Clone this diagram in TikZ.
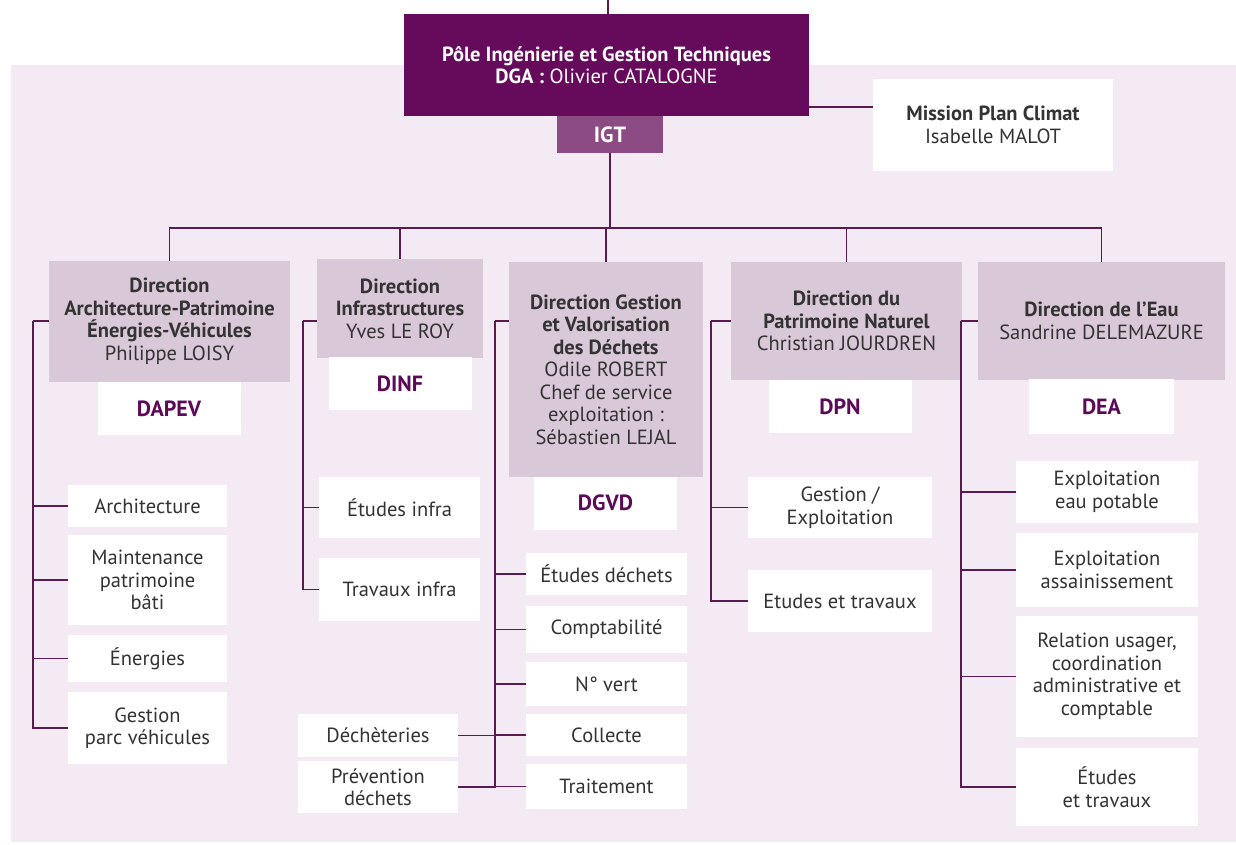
\documentclass[tikz,border=0pt]{standalone}
\usepackage{fontspec}
\setmainfont{PT Sans}
\definecolor{polepurple}{HTML}{660A5C}
\definecolor{igtpurple}{HTML}{8C4B83}
\definecolor{headlilac}{HTML}{D9C8D8}
\definecolor{bgpink}{HTML}{F4EAF3}
\definecolor{linkpurple}{HTML}{5B1A52}
\definecolor{codepurple}{HTML}{5C0A57}
\definecolor{txtgray}{HTML}{333333}

\begin{document}
\begin{tikzpicture}[x=1pt,y=-1pt,
  box/.style={inner sep=0pt,align=center,text=txtgray,font=\fontsize{20.5}{22.5}\selectfont},
  headbox/.style={box,fill=headlilac},
  codebox/.style={box,fill=white,text=codepurple,font=\fontsize{22}{24}\selectfont\bfseries,minimum width=143pt,minimum height=53pt},
  subbox/.style={box,fill=white},
  link/.style={draw=linkpurple,line width=1.6pt}]
\useasboundingbox (0,0) rectangle (1236,845);
% Background panel
\fill[bgpink] (11,65) rectangle (1236,842);

% Pole and mission
\node[box,fill=polepurple,text=white,minimum width=405pt,minimum height=102pt] (pole) at (606.5,65)
  {\textbf{Pôle Ingénierie et Gestion Techniques}\\\textbf{DGA :} Olivier CATALOGNE};
\node[box,fill=igtpurple,text=white,minimum width=106pt,minimum height=37pt,font=\fontsize{22}{24}\selectfont\bfseries] (igt) at (610,134.5) {IGT};
\node[subbox,minimum width=240pt,minimum height=92pt] (mpc) at (993,125)
  {\textbf{Mission Plan Climat}\\Isabelle MALOT};

% Directions
\node[headbox,minimum width=241pt,minimum height=121pt] (hd1) at (169.5,321.5)
  {\textbf{Direction}\\\textbf{Architecture-Patrimoine}\\\textbf{Énergies-Véhicules}\\Philippe LOISY};
\node[codebox] (c1) at (169,408.5) {DAPEV};
\node[headbox,minimum width=166pt,minimum height=99pt] (hd2) at (400,308.5)
  {\textbf{Direction}\\\textbf{Infrastructures}\\Yves LE ROY};
\node[codebox] (c2) at (400,383.5) {DINF};
\node[headbox,minimum width=194pt,minimum height=215pt] (hd3) at (606,369.5)
  {\textbf{Direction Gestion}\\\textbf{et Valorisation}\\\textbf{des Déchets}\\Odile ROBERT\\Chef de service\\exploitation :\\Sébastien LEJAL};
\node[codebox] (c3) at (605.5,503) {DGVD};
\node[headbox,minimum width=231pt,minimum height=118pt] (hd4) at (846.5,321)
  {\textbf{Direction du}\\\textbf{Patrimoine Naturel}\\Christian JOURDREN};
\node[codebox] (c4) at (840,406.5) {DPN};
\node[headbox,minimum width=247pt,minimum height=118pt] (hd5) at (1101.5,321)
  {\textbf{Direction de l’Eau}\\Sandrine DELEMAZURE};
\node[codebox,minimum width=145pt,minimum height=55pt] (c5) at (1101.5,406.5) {DEA};

% Services
\node[subbox,minimum width=159pt,minimum height=42pt] (arch) at (147.5,506) {Architecture};
\node[subbox,minimum width=159pt,minimum height=90pt] (maint) at (147.5,580) {Maintenance\\patrimoine\\bâti};
\node[subbox,minimum width=159pt,minimum height=47pt] (ener) at (147.5,658.5) {Énergies};
\node[subbox,minimum width=159pt,minimum height=72pt] (gpv) at (147.5,728) {Gestion\\parc véhicules};

\node[subbox,minimum width=161pt,minimum height=61pt] (etinf) at (399.5,507.5) {Études infra};
\node[subbox,minimum width=161pt,minimum height=63pt] (trinf) at (399.5,589.5) {Travaux infra};

\node[subbox,minimum width=161pt,minimum height=42pt] (etdec) at (606.5,574) {Études déchets};
\node[subbox,minimum width=161pt,minimum height=47pt] (compta) at (606.5,629.5) {Comptabilité};
\node[subbox,minimum width=161pt,minimum height=44pt] (nvert) at (606.5,684) {N° vert};
\node[subbox,minimum width=161pt,minimum height=42pt] (coll) at (606.5,735) {Collecte};
\node[subbox,minimum width=161pt,minimum height=45pt] (trait) at (606.5,786.5) {Traitement};
\node[subbox,minimum width=160pt,minimum height=43pt] (dech) at (378,735.5) {Déchèteries};
\node[subbox,minimum width=160pt,minimum height=52pt] (prev) at (378,787) {Prévention\\déchets};

\node[subbox,minimum width=184pt,minimum height=61pt] (gexp) at (840,507.5) {Gestion /\\Exploitation};
\node[subbox,minimum width=184pt,minimum height=62pt] (ettr) at (840,601) {Etudes et travaux};

\node[subbox,minimum width=182pt,minimum height=62pt] (eaup) at (1107,492) {Exploitation\\eau potable};
\node[subbox,minimum width=182pt,minimum height=74pt] (assain) at (1107,570) {Exploitation\\assainissement};
\node[subbox,minimum width=182pt,minimum height=121pt] (relat) at (1107,676.5) {Relation usager,\\coordination\\administrative et\\comptable};
\node[subbox,minimum width=182pt,minimum height=78pt] (ettrv) at (1107,787) {Études\\et travaux};

% Links at the top
\coordinate (top) at (608,0);
\coordinate (mlink) at (840,107);
\coordinate (bus) at (610,228);
\draw[link] (top) -- (top |- pole.north);
\draw[link] (pole.east |- mlink) -- (mpc.west |- mlink);
\draw[link] (igt.south) -- (bus);
\draw[link] (hd1.north) |- (bus) -| (hd5.north);
\foreach \n in {2,3,4}
  \draw[link] (hd\n.north |- bus) -- (hd\n.north);

% Spines
\coordinate (s1) at (33,321);
\coordinate (s2) at (303,321);
\coordinate (s3) at (495,321);
\coordinate (s4) at (711,321);
\coordinate (s5) at (961,321);
\foreach \n in {1,...,5}
  \draw[link] (hd\n.west |- s\n) -- (s\n);
\foreach \b in {arch,maint,ener,gpv}
  \draw[link] (s1) |- (\b.west);
\foreach \b in {etinf,trinf}
  \draw[link] (s2) |- (\b.west);
\foreach \b in {etdec,compta,nvert,coll,trait}
  \draw[link] (s3) |- (\b.west);
\foreach \b in {dech,prev}
  \draw[link] (s3) |- (\b.east);
\foreach \b in {gexp,ettr}
  \draw[link] (s4) |- (\b.west);
\foreach \b in {eaup,assain,relat,ettrv}
  \draw[link] (s5) |- (\b.west);
\end{tikzpicture}
\end{document}
